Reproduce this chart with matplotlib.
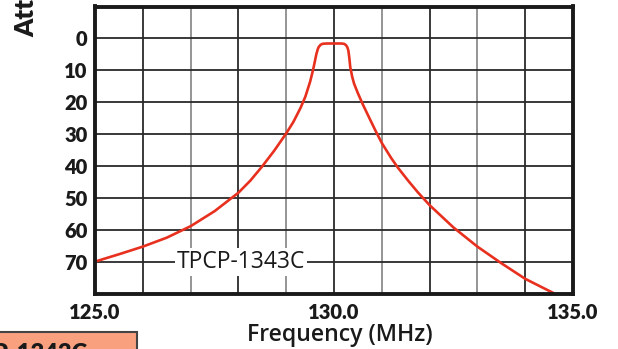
import matplotlib
matplotlib.use("Agg")
import matplotlib.pyplot as plt
from matplotlib.patches import Rectangle

# ---- data ----
freq_mhz = [125.0, 125.5, 126.0, 126.5, 127.0, 127.5, 128.0, 128.25, 128.5,
            128.75, 129.0, 129.15, 129.3, 129.4, 129.5, 129.56, 129.6, 129.63,
            129.66, 129.68, 129.72, 129.76, 129.85, 130.0, 130.15, 130.21,
            130.25, 130.28, 130.3, 130.32, 130.34, 130.38, 130.42, 130.5,
            130.6, 130.75, 130.88, 131.0, 131.2, 131.34, 131.55, 131.75,
            132.0, 132.5, 133.0, 133.5, 134.0, 134.61]
atten_db = [70.0, 67.7, 65.3, 62.5, 58.9, 54.2, 48.4, 44.6, 40.1,
            35.2, 29.8, 26.2, 21.8, 18.3, 13.6, 10.0, 7.2, 5.0,
            3.4, 2.7, 2.0, 1.7, 1.6, 1.6, 1.6, 1.7,
            2.1, 2.8, 3.8, 6.0, 9.0, 12.0, 14.2, 17.2,
            20.6, 25.3, 29.3, 32.8, 37.6, 40.6, 44.6, 48.2,
            52.3, 59.3, 65.3, 70.5, 75.4, 80.0]

x_ticks = [125.0, 130.0, 135.0]
x_tick_labels = ["125.0", "130.0", "135.0"]
y_ticks = [0, 10, 20, 30, 40, 50, 60, 70]
y_tick_labels = ["0", "10", "20", "30", "40", "50", "60", "70"]
grid_x = list(range(126, 135))
model_name = "TPCP-1343C"

plt.rcParams["font.family"] = ["Lato", "DejaVu Sans"]
WIDE = ["Open Sans", "DejaVu Sans"]

W, H = 618, 349
fig = plt.figure(figsize=(W / 100, H / 100), dpi=100)
ax = fig.add_axes([95 / W, 1 - 293.5 / H, (573 - 95) / W, (293.5 - 6.5) / H])

ax.set_xlim(125, 135)
ax.set_ylim(80, -10)

# grid
for gx in grid_x:
    col = "#2a2a2a" if gx % 2 == 0 else "#8c8c8c"
    ax.axvline(gx, color=col, lw=1.3, zorder=1)
for gy in y_ticks:
    ax.axhline(gy, color="#2a2a2a", lw=1.3, zorder=1)

# curve
ax.plot(freq_mhz, atten_db, color="#E8301F", lw=1.9, zorder=4,
        solid_capstyle="butt", solid_joinstyle="round")

# in-chart label
ax.text(128.05, 70, model_name, ha="center", va="center", fontsize=16.5,
        family=WIDE, color="#1a1a1a", zorder=5,
        bbox=dict(facecolor="white", edgecolor="none", pad=1.5))

# ticks
ax.set_xticks(x_ticks)
ax.set_xticklabels(x_tick_labels, fontsize=14.5, fontweight="heavy", color="#1a1a1a")
ax.set_yticks(y_ticks)
ax.set_yticklabels(y_tick_labels, fontsize=14.5, fontweight="heavy", color="#1a1a1a")
ax.tick_params(axis="both", length=0)
ax.tick_params(axis="y", pad=5.5)
ax.tick_params(axis="x", pad=6.5)

for s in ax.spines.values():
    s.set_linewidth(2.8)
    s.set_color("#1a1a1a")
    s.set_zorder(6)

# axis titles
fig.text(340 / W, 1 - 341 / H, "Frequency (MHz)", ha="center", va="baseline",
         fontsize=16.7, fontweight="semibold", family=WIDE, color="#1a1a1a")
fig.text(33.5 / W, 1 - 37 / H, "Attenuation (dB)", ha="left", va="baseline",
         rotation=90, rotation_mode="anchor", fontsize=18.5, fontweight="heavy",
         color="#1a1a1a")

# partial box at bottom-left
fig.patches.append(Rectangle((-5 / W, -5 / H), (137 + 5) / W, (349 - 332 + 5) / H,
                             transform=fig.transFigure, facecolor="#F9A07F",
                             edgecolor="#444444", lw=1.5, zorder=0))
fig.text(88 / W, 1 - 343 / H, model_name, ha="right", va="top",
         fontsize=17, fontweight="heavy", color="#1a1a1a")

fig.savefig("out.png", dpi=100)
